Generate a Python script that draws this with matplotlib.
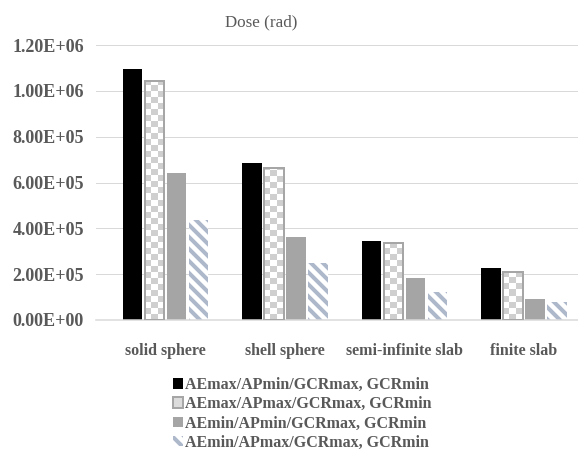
import numpy as np
import matplotlib
matplotlib.use('Agg')
import matplotlib.pyplot as plt
from matplotlib.colors import ListedColormap
from matplotlib.patches import Patch

plt.rcParams['hatch.linewidth'] = 4

categories = ['solid sphere', 'shell sphere', 'semi-infinite slab', 'finite slab']
series_names = ['AEmax/APmin/GCRmax, GCRmin',
                'AEmax/APmax/GCRmax, GCRmin',
                'AEmin/APmin/GCRmax, GCRmin',
                'AEmin/APmax/GCRmax, GCRmin']
aemax_apmin = [1.095e6, 6.85e5, 3.45e5, 2.25e5]
aemax_apmax = [1.043e6, 6.62e5, 3.35e5, 2.10e5]
aemin_apmin = [6.41e5, 3.62e5, 1.83e5, 0.92e5]
aemin_apmax = [4.36e5, 2.49e5, 1.22e5, 0.78e5]
yticks = [0, 2e5, 4e5, 6e5, 8e5, 1.0e6, 1.2e6]

txt = '#595959'
serif = 'Liberation Serif'
W, H = 578, 453
fig = plt.figure(figsize=(W / 72, H / 72), dpi=72)
ax = fig.add_axes([96 / W, (H - 320) / H, (578 - 96) / W, 275 / H])

x = np.arange(len(categories))
step = 0.184
bw = 0.16
ax.set_xlim(-0.582, 3.452)
ax.set_ylim(0, 1.2e6)

ax.bar(x - 1.5 * step, aemax_apmin, bw, color='black', zorder=2)
chk = ax.bar(x - 0.5 * step, aemax_apmax, bw, facecolor='none',
             edgecolor='#a6a6a6', linewidth=2, zorder=3)
ax.bar(x + 0.5 * step, aemin_apmin, bw, color='#a5a5a5', zorder=2)
ax.bar(x + 1.5 * step, aemin_apmax, bw, facecolor='white',
       edgecolor='#adb9ca', linewidth=0, hatch='\\\\', zorder=2)

# checker fill for the second series, clipped to each bar
cmap = ListedColormap(['white', '#cfcfcf'])
inv = ax.transData.inverted()
cell = 6
for r in chk:
    x0, y0 = r.get_x(), r.get_y()
    p0 = ax.transData.transform((x0, y0))
    p1 = ax.transData.transform((x0 + r.get_width(), y0 + r.get_height()))
    nc = int(np.ceil((p1[0] - p0[0]) / cell))
    nr = int(np.ceil((p1[1] - p0[1]) / cell))
    grid = (np.add.outer(np.arange(nr), np.arange(nc)) % 2).astype(float)
    q1 = inv.transform((p0[0] + nc * cell, p0[1] + nr * cell))
    im = ax.imshow(grid, cmap=cmap, origin='lower', interpolation='nearest',
                   extent=(x0, q1[0], y0, q1[1]), aspect='auto', zorder=2)
    im.set_clip_path(r)

ax.set_yticks(yticks)
ax.set_yticklabels(['{:.2E}'.format(v) for v in yticks])
ax.set_xticks(x)
ax.set_xticklabels(categories)
ax.tick_params(axis='y', length=0, pad=12, labelsize=18, labelcolor=txt)
ax.tick_params(axis='x', length=0, pad=23, labelsize=16, labelcolor=txt)
for lab in ax.get_xticklabels() + ax.get_yticklabels():
    lab.set_fontfamily(serif)
    lab.set_fontweight('bold')

ax.grid(axis='y', color='#d9d9d9', linewidth=1, zorder=0)
ax.set_axisbelow(True)
for s in ['top', 'right', 'left']:
    ax.spines[s].set_visible(False)
ax.spines['bottom'].set_color('#d9d9d9')
ax.spines['bottom'].set_linewidth(1.5)
ax.set_xlim(-0.582, 3.452)

fig.text(261 / W, 1 - 22 / H, 'Dose (rad)', ha='center', va='center',
         fontsize=17, color=txt, family=serif)

handles = [Patch(facecolor='black'),
           Patch(facecolor='#dcdcdc', edgecolor='#a6a6a6', linewidth=2),
           Patch(facecolor='#a5a5a5'),
           Patch(facecolor='white', edgecolor='#adb9ca', linewidth=0, hatch='\\\\')]
leg = fig.legend(handles, series_names, loc='upper left',
                 bbox_to_anchor=(173 / W, (H - 377) / H), frameon=False,
                 borderpad=0, borderaxespad=0, handlelength=0.625,
                 handleheight=0.625, handletextpad=0.15, labelspacing=0.2,
                 prop={'family': serif, 'weight': 'bold', 'size': 16})
for t in leg.get_texts():
    t.set_color(txt)

fig.savefig('out.png', dpi=72)
